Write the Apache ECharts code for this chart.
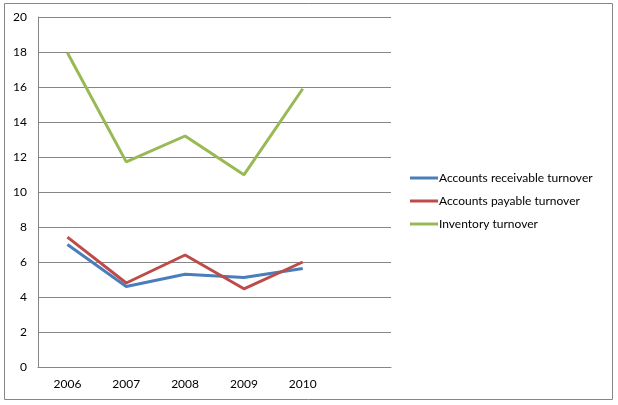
<!DOCTYPE html>
<html><head><meta charset="utf-8">
<script src="https://cdn.jsdelivr.net/npm/echarts@6/dist/echarts.min.js"></script>
<style>html,body{margin:0;padding:0;background:#fff}#c{width:618px;height:405px}</style>
</head><body><div id="c"></div>
<script>
const categories = ['2006','2007','2008','2009','2010',''];
const receivable = [7.0, 4.6, 5.3, 5.12, 5.63, null];
const payable = [7.42, 4.8, 6.4, 4.47, 6.0, null];
const inventory = [17.96, 11.72, 13.2, 10.98, 15.9, null];
const seriesNames = ['Accounts receivable turnover','Accounts payable turnover','Inventory turnover'];
const colors = ['#4A7EBB','#BE4B48','#98B954'];
const font = 'Lato, "Open Sans", sans-serif';
const chart = echarts.init(document.getElementById('c'));
const mk = (name, data, color) => ({
  name, type:'line', data, symbol:'none', smooth:false,
  lineStyle:{color, width:3}, itemStyle:{color}
});
chart.setOption({
  animation:false,
  graphic:[{type:'rect', shape:{x:4.5,y:3.5,width:608,height:396}, style:{fill:'none', stroke:'#868686', lineWidth:1}}],
  grid:{left:38, right:227, top:17, bottom:38},
  xAxis:{type:'category', data:categories, boundaryGap:true,
    axisLine:{lineStyle:{color:'#868686'}}, axisTick:{show:false},
    axisLabel:{color:'#000', fontFamily:font, fontSize:12, margin:11}},
  yAxis:{type:'value', min:0, max:20, interval:2,
    axisLine:{show:true, lineStyle:{color:'#868686'}}, axisTick:{show:false},
    splitLine:{lineStyle:{color:'#868686'}},
    axisLabel:{color:'#000', fontFamily:font, fontSize:12, margin:11}},
  legend:{orient:'vertical', left:405, top:166, itemWidth:28, itemHeight:3, itemGap:9,
    icon:'rect', textStyle:{fontFamily:font, fontSize:12, color:'#000', padding:[0,0,0,-4], lineHeight:14},
    data:seriesNames},
  series:[mk(seriesNames[0], receivable, colors[0]), mk(seriesNames[1], payable, colors[1]), mk(seriesNames[2], inventory, colors[2])]
});
</script></body></html>
